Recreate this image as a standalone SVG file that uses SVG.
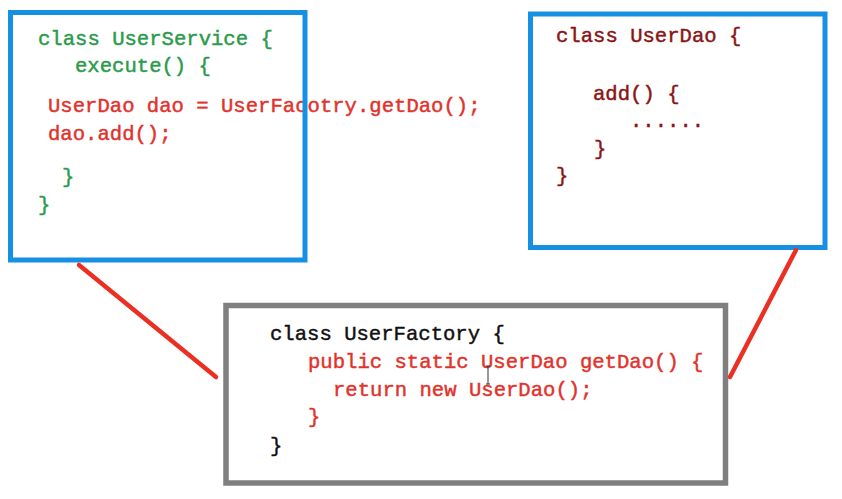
<svg xmlns="http://www.w3.org/2000/svg" width="842" height="499" viewBox="0 0 842 499">
  <style>
    .code { font-family: "Liberation Mono", "DejaVu Sans Mono", monospace; font-size: 20.6px; stroke-width: 0.45; }
    .green { fill: #2b9a4c; stroke: #2b9a4c; }
    .red { fill: #e2322c; stroke: #e2322c; }
    .dark { fill: #8a1414; stroke: #8a1414; }
    .black { fill: #111111; stroke: #111111; }
    .blue-box { fill: none; stroke: #1590e2; stroke-width: 5; }
    .gray-box { fill: none; stroke: #7f7f7f; stroke-width: 5.5; }
    .link { stroke: #ec2f23; stroke-width: 4.5; stroke-linecap: round; fill: none; }
  </style>
  <rect width="842" height="499" fill="#ffffff"/>

  <!-- UserService -->
  <g id="user-service">
    <text class="code green" x="38" y="45">class UserService {</text>
    <text class="code green" x="75" y="72">execute() {</text>
    <text class="code red" x="48" y="112">UserDao dao = UserFacotry.getDao();</text>
    <text class="code red" x="48" y="140">dao.add();</text>
    <text class="code green" x="62" y="183">}</text>
    <text class="code green" x="38" y="211">}</text>
    <rect class="blue-box" x="10.5" y="12.5" width="294.5" height="247.5"/>
  </g>

  <!-- UserDao -->
  <g id="user-dao">
    <text class="code dark" x="556" y="42">class UserDao {</text>
    <text class="code dark" x="593" y="100">add() {</text>
    <text class="code dark" x="630" y="127">......</text>
    <text class="code dark" x="594" y="155">}</text>
    <text class="code dark" x="556" y="182">}</text>
    <rect class="blue-box" x="530.5" y="14" width="294.5" height="233.5"/>
  </g>

  <!-- UserFactory -->
  <g id="user-factory">
    <text class="code black" x="270" y="340">class UserFactory {</text>
    <text class="code red" x="308" y="368">public static UserDao getDao() {</text>
    <text class="code red" x="333" y="396">return new UserDao();</text>
    <text class="code red" x="308" y="423">}</text>
    <text class="code black" x="270" y="452">}</text>
    <!-- text cursor -->
    <path d="M486 366 H490 M488 366 V384 M486 384 H490" stroke="#333333" stroke-width="1" fill="none"/>
    <rect class="gray-box" x="226" y="305.5" width="499.5" height="177.5"/>
  </g>

  <!-- connectors -->
  <g id="connectors">
    <line class="link" x1="79" y1="265" x2="216" y2="377"/>
    <line class="link" x1="796" y1="250" x2="730" y2="377"/>
  </g>
</svg>
